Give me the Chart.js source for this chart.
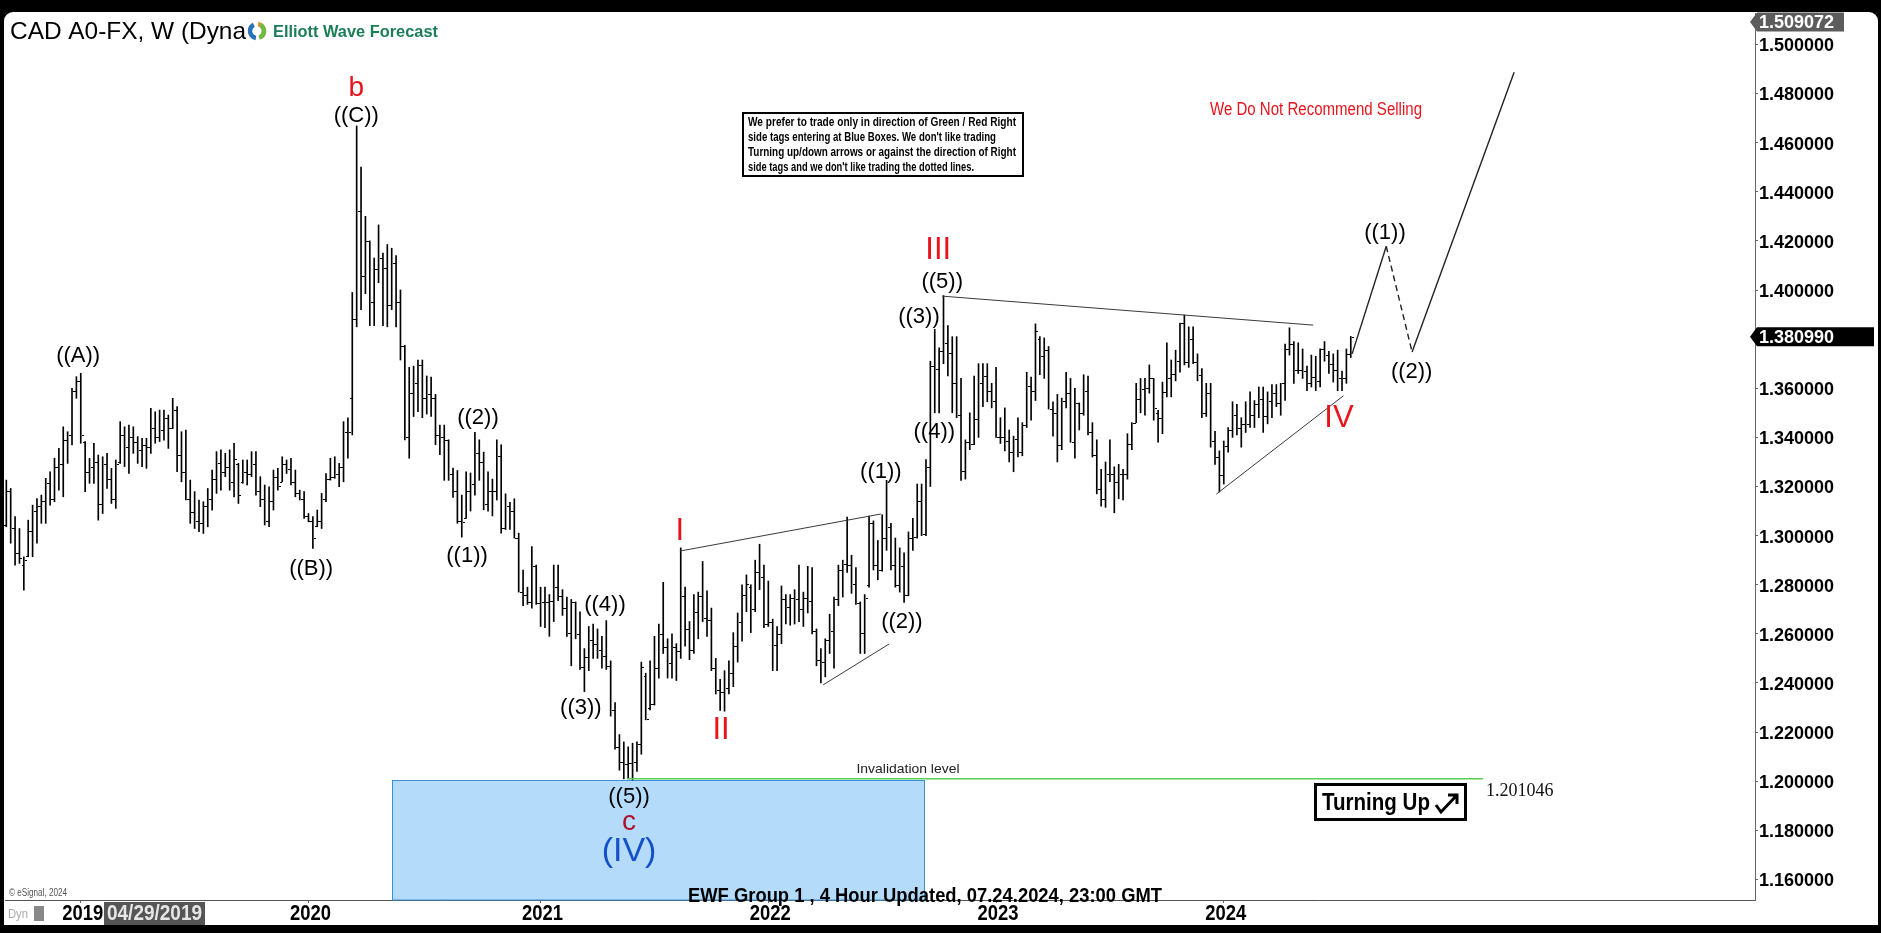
<!DOCTYPE html>
<html>
<head>
<meta charset="utf-8">
<script src="https://cdn.jsdelivr.net/npm/chart.js@4.4.1/dist/chart.umd.min.js"></script>
<style>
    html, body { margin: 0; padding: 0; background: #000; }
    #wrap { position: absolute; left: 0; top: 0; width: 1881px; height: 933px; }
</style>
</head>
<body>
<div id="wrap"><canvas id="chart" width="1881" height="933"></canvas></div>
<script>
// weekly bars, first bar = week of 2018-09-03
const yearLabels = ['2019', '2020', '2021', '2022', '2023', '2024'];
const yearTickIndex = [17, 69, 122, 174, 226, 278];
const priceTicks = [1.16, 1.18, 1.20, 1.22, 1.24, 1.26, 1.28, 1.30, 1.32, 1.34, 1.36, 1.38, 1.40, 1.42, 1.44, 1.46, 1.48, 1.50];

const weekOpen = [
    1.3045,1.3180,1.3030,1.2930,1.2880,1.2915,1.3020,1.3100,1.3120,1.3140,
    1.3215,1.3150,1.3280,1.3290,1.3390,1.3410,1.3590,1.3630,1.3380,1.3260,
    1.3280,1.3300,1.3130,1.3290,1.3230,1.3150,1.3300,1.3410,1.3360,1.3400,
    1.3380,1.3350,1.3370,1.3360,1.3440,1.3400,1.3430,1.3480,1.3440,1.3510,
    1.3330,1.3260,1.3150,1.3095,1.3060,1.3050,1.3120,1.3150,1.3230,1.3295,
    1.3260,1.3280,1.3220,1.3290,1.3220,1.3260,1.3250,1.3290,1.3180,1.3150,
    1.3060,1.3140,1.3240,1.3220,1.3290,1.3270,1.3220,1.3175,1.3150,1.3080,
    1.3060,1.3040,1.3060,1.3150,1.3230,1.3240,1.3250,1.3280,1.3420,1.3560,
    1.3880,1.4320,1.4055,1.4200,1.3950,1.4085,1.4130,1.4090,1.3940,1.4110,
    1.3950,1.3770,1.3400,1.3580,1.3620,1.3695,1.3560,1.3575,1.3560,1.3410,
    1.3400,1.3390,1.3250,1.3180,1.3060,1.3070,1.3180,1.3210,1.3335,1.3300,
    1.3130,1.3180,1.3180,1.3325,1.3030,1.3120,1.3100,1.2990,1.2770,1.2760,
    1.2730,1.2875,1.2725,1.2730,1.2730,1.2735,1.2790,1.2755,1.2705,1.2605,
    1.2730,1.2600,1.2465,1.2505,1.2575,1.2560,1.2535,1.2510,1.2470,1.2290,
    1.2140,1.2080,1.2070,1.2075,1.2080,1.2150,1.2430,1.2300,1.2315,1.2460,
    1.2600,1.2545,1.2480,1.2545,1.2530,1.2755,1.2620,1.2535,1.2690,1.2755,
    1.2665,1.2655,1.2460,1.2370,1.2365,1.2380,1.2440,1.2550,1.2650,1.2760,
    1.2790,1.2700,1.2850,1.2830,1.2640,1.2650,1.2555,1.2600,1.2740,1.2710,
    1.2745,1.2740,1.2700,1.2745,1.2735,1.2610,1.2495,1.2485,1.2575,1.2610,
    1.2740,1.2860,1.2885,1.2880,1.2805,1.2725,1.2605,1.2800,1.3050,1.2880,
    1.2860,1.2990,1.3035,1.2880,1.2800,1.2875,1.2760,1.2990,1.2995,1.3140,
    1.3005,1.3280,1.3690,1.3680,1.3750,1.3785,1.3745,1.3620,1.3490,1.3265,
    1.3380,1.3375,1.3475,1.3620,1.3650,1.3590,1.3550,1.3400,1.3400,1.3385,
    1.3340,1.3395,1.3340,1.3450,1.3610,1.3590,1.3800,1.3730,1.3755,1.3515,
    1.3500,1.3370,1.3550,1.3580,1.3380,1.3540,1.3500,1.3590,1.3420,1.3330,
    1.3190,1.3150,1.3250,1.3250,1.3220,1.3250,1.3250,1.3375,1.3460,1.3555,
    1.3595,1.3600,1.3640,1.3500,1.3480,1.3585,1.3640,1.3660,1.3710,1.3865,
    1.3705,1.3800,1.3705,1.3655,1.3500,1.3580,1.3385,1.3320,1.3245,1.3365,
    1.3430,1.3490,1.3440,1.3455,1.3455,1.3490,1.3535,1.3555,1.3485,1.3550,
    1.3580,1.3540,1.3620,1.3760,1.3780,1.3675,1.3675,1.3670,1.3620,1.3645,
    1.3630,1.3760,1.3735,1.3700,1.3675,1.3640,1.3640,1.3740
];

const weekHigh = [
    1.3226,1.3192,1.3077,1.3029,1.2914,1.3063,1.3124,1.3151,1.3165,1.3233,
    1.3260,1.3315,1.3355,1.3443,1.3423,1.3600,1.3647,1.3661,1.3383,1.3315,
    1.3376,1.3328,1.3321,1.3335,1.3274,1.3308,1.3464,1.3443,1.3450,1.3443,
    1.3403,1.3396,1.3396,1.3518,1.3504,1.3511,1.3511,1.3491,1.3559,1.3525,
    1.3423,1.3430,1.3226,1.3179,1.3145,1.3138,1.3192,1.3267,1.3342,1.3349,
    1.3335,1.3349,1.3376,1.3294,1.3308,1.3308,1.3342,1.3342,1.3240,1.3206,
    1.3199,1.3267,1.3274,1.3321,1.3308,1.3315,1.3267,1.3185,1.3179,1.3090,
    1.3077,1.3104,1.3172,1.3253,1.3315,1.3321,1.3294,1.3464,1.3480,1.3990,
    1.4668,1.4500,1.4300,1.4200,1.4130,1.4265,1.4150,1.4185,1.4170,1.4140,
    1.4000,1.3775,1.3685,1.3690,1.3715,1.3715,1.3650,1.3645,1.3575,1.3450,
    1.3450,1.3390,1.3275,1.3265,1.3165,1.3260,1.3255,1.3420,1.3390,1.3340,
    1.3260,1.3230,1.3390,1.3370,1.3170,1.3135,1.3150,1.3010,1.2860,1.2790,
    1.2955,1.2880,1.2790,1.2790,1.2760,1.2880,1.2880,1.2780,1.2750,1.2740,
    1.2730,1.2690,1.2540,1.2630,1.2640,1.2620,1.2590,1.2654,1.2490,1.2320,
    1.2190,1.2160,1.2140,1.2155,1.2160,1.2485,1.2440,1.2490,1.2590,1.2640,
    1.2810,1.2580,1.2600,1.2560,1.2950,1.2790,1.2650,1.2760,1.2770,1.2895,
    1.2775,1.2705,1.2500,1.2415,1.2450,1.2490,1.2605,1.2685,1.2800,1.2840,
    1.2800,1.2900,1.2965,1.2880,1.2815,1.2660,1.2630,1.2795,1.2760,1.2760,
    1.2780,1.2880,1.2770,1.2875,1.2870,1.2620,1.2540,1.2580,1.2680,1.2750,
    1.2880,1.2900,1.3075,1.2920,1.2870,1.2730,1.2760,1.3080,1.3060,1.2980,
    1.3085,1.3225,1.3050,1.2990,1.2950,1.2930,1.3015,1.3070,1.3210,1.3210,
    1.3310,1.3710,1.3840,1.3765,1.3977,1.3855,1.3810,1.3810,1.3640,1.3390,
    1.3500,1.3650,1.3700,1.3700,1.3700,1.3620,1.3685,1.3480,1.3520,1.3430,
    1.3405,1.3480,1.3460,1.3665,1.3645,1.3862,1.3810,1.3805,1.3770,1.3545,
    1.3575,1.3560,1.3665,1.3640,1.3600,1.3540,1.3655,1.3650,1.3460,1.3390,
    1.3270,1.3300,1.3390,1.3280,1.3290,1.3270,1.3415,1.3460,1.3620,1.3640,
    1.3640,1.3695,1.3640,1.3510,1.3625,1.3785,1.3715,1.3755,1.3865,1.3898,
    1.3850,1.3850,1.3740,1.3680,1.3620,1.3620,1.3425,1.3345,1.3385,1.3440,
    1.3545,1.3535,1.3480,1.3545,1.3585,1.3550,1.3605,1.3605,1.3585,1.3615,
    1.3615,1.3620,1.3780,1.3846,1.3790,1.3785,1.3760,1.3690,1.3735,1.3730,
    1.3760,1.3790,1.3750,1.3740,1.3755,1.3670,1.3760,1.3811
];

const weekLow = [
    1.3036,1.2969,1.2880,1.2887,1.2778,1.2914,1.2914,1.2969,1.3050,1.3050,
    1.3124,1.3138,1.3185,1.3158,1.3294,1.3369,1.3559,1.3376,1.3179,1.3213,
    1.3213,1.3063,1.3090,1.3192,1.3131,1.3111,1.3294,1.3281,1.3253,1.3335,
    1.3294,1.3281,1.3274,1.3335,1.3376,1.3383,1.3389,1.3355,1.3436,1.3260,
    1.3219,1.3145,1.3050,1.3029,1.3016,1.3009,1.3036,1.3104,1.3172,1.3185,
    1.3240,1.3185,1.3158,1.3131,1.3213,1.3206,1.3240,1.3165,1.3118,1.3043,
    1.3036,1.3104,1.3185,1.3219,1.3253,1.3206,1.3158,1.3145,1.3070,1.3056,
    1.2948,1.3036,1.3029,1.3138,1.3226,1.3233,1.3199,1.3219,1.3315,1.3410,
    1.3850,1.3920,1.3985,1.3855,1.3855,1.4030,1.3855,1.3850,1.3920,1.3850,
    1.3715,1.3390,1.3315,1.3485,1.3505,1.3480,1.3495,1.3485,1.3370,1.3330,
    1.3225,1.3225,1.3155,1.3050,1.2994,1.3070,1.3100,1.3165,1.3225,1.3105,
    1.3100,1.3080,1.3145,1.3010,1.3025,1.3025,1.2990,1.2770,1.2715,1.2720,
    1.2705,1.2720,1.2630,1.2625,1.2590,1.2650,1.2735,1.2675,1.2590,1.2470,
    1.2580,1.2455,1.2365,1.2450,1.2500,1.2500,1.2460,1.2455,1.2265,1.2130,
    1.2045,1.2010,1.2010,1.2005,1.2040,1.2110,1.2250,1.2290,1.2310,1.2420,
    1.2520,1.2420,1.2420,1.2410,1.2500,1.2550,1.2495,1.2520,1.2580,1.2650,
    1.2590,1.2450,1.2355,1.2288,1.2285,1.2355,1.2385,1.2485,1.2570,1.2690,
    1.2605,1.2690,1.2780,1.2625,1.2630,1.2450,1.2450,1.2560,1.2640,1.2635,
    1.2640,1.2650,1.2630,1.2685,1.2600,1.2470,1.2400,1.2425,1.2520,1.2460,
    1.2715,1.2750,1.2850,1.2765,1.2720,1.2520,1.2520,1.2790,1.2860,1.2820,
    1.2855,1.2940,1.2860,1.2790,1.2770,1.2728,1.2755,1.2940,1.2990,1.3000,
    1.3000,1.3200,1.3500,1.3500,1.3700,1.3650,1.3500,1.3480,1.3225,1.3230,
    1.3350,1.3370,1.3400,1.3525,1.3545,1.3520,1.3400,1.3375,1.3345,1.3300,
    1.3260,1.3320,1.3325,1.3440,1.3470,1.3550,1.3655,1.3640,1.3515,1.3405,
    1.3300,1.3350,1.3520,1.3380,1.3315,1.3430,1.3490,1.3410,1.3320,1.3170,
    1.3120,1.3115,1.3220,1.3093,1.3150,1.3145,1.3230,1.3350,1.3460,1.3500,
    1.3490,1.3580,1.3470,1.3380,1.3415,1.3565,1.3565,1.3630,1.3665,1.3695,
    1.3685,1.3700,1.3630,1.3480,1.3485,1.3360,1.3290,1.3178,1.3210,1.3340,
    1.3400,1.3410,1.3360,1.3420,1.3440,1.3440,1.3480,1.3420,1.3455,1.3480,
    1.3525,1.3490,1.3550,1.3735,1.3620,1.3660,1.3640,1.3590,1.3605,1.3590,
    1.3605,1.3710,1.3660,1.3625,1.3590,1.3590,1.3620,1.3725
];

const weekClose = [
    1.3180,1.3030,1.2930,1.2910,1.2900,1.3020,1.3100,1.3120,1.3140,1.3215,
    1.3150,1.3280,1.3290,1.3390,1.3410,1.3590,1.3630,1.3410,1.3260,1.3280,
    1.3300,1.3130,1.3290,1.3230,1.3150,1.3290,1.3410,1.3360,1.3400,1.3380,
    1.3350,1.3370,1.3360,1.3440,1.3400,1.3430,1.3480,1.3440,1.3510,1.3330,
    1.3260,1.3150,1.3095,1.3060,1.3050,1.3120,1.3150,1.3230,1.3295,1.3260,
    1.3280,1.3220,1.3310,1.3165,1.3260,1.3250,1.3290,1.3180,1.3150,1.3060,
    1.3140,1.3240,1.3200,1.3290,1.3270,1.3220,1.3175,1.3150,1.3080,1.3060,
    1.2990,1.3060,1.3150,1.3230,1.3240,1.3250,1.3280,1.3420,1.3420,1.3880,
    1.4320,1.4055,1.4200,1.3950,1.4085,1.4130,1.4090,1.3940,1.4110,1.3950,
    1.3770,1.3400,1.3580,1.3620,1.3695,1.3560,1.3575,1.3560,1.3410,1.3400,
    1.3390,1.3250,1.3180,1.3060,1.3055,1.3180,1.3210,1.3335,1.3300,1.3130,
    1.3180,1.3180,1.3325,1.3030,1.3120,1.3100,1.2990,1.2770,1.2760,1.2730,
    1.2875,1.2725,1.2730,1.2730,1.2735,1.2790,1.2755,1.2705,1.2605,1.2730,
    1.2600,1.2465,1.2505,1.2575,1.2560,1.2535,1.2510,1.2470,1.2290,1.2140,
    1.2080,1.2070,1.2075,1.2080,1.2150,1.2465,1.2255,1.2315,1.2460,1.2600,
    1.2545,1.2480,1.2545,1.2530,1.2755,1.2620,1.2535,1.2690,1.2755,1.2665,
    1.2655,1.2460,1.2370,1.2365,1.2380,1.2440,1.2550,1.2650,1.2760,1.2805,
    1.2700,1.2850,1.2830,1.2640,1.2650,1.2555,1.2600,1.2740,1.2710,1.2745,
    1.2740,1.2700,1.2745,1.2735,1.2610,1.2495,1.2485,1.2575,1.2610,1.2740,
    1.2860,1.2885,1.2880,1.2805,1.2725,1.2605,1.2745,1.3050,1.2880,1.2860,
    1.2990,1.3035,1.2880,1.2800,1.2875,1.2760,1.2990,1.2995,1.3140,1.3005,
    1.3280,1.3690,1.3680,1.3750,1.3785,1.3745,1.3620,1.3490,1.3265,1.3380,
    1.3375,1.3475,1.3620,1.3650,1.3590,1.3550,1.3400,1.3400,1.3385,1.3340,
    1.3395,1.3340,1.3450,1.3610,1.3590,1.3835,1.3730,1.3755,1.3515,1.3500,
    1.3370,1.3550,1.3580,1.3380,1.3540,1.3500,1.3590,1.3420,1.3330,1.3190,
    1.3150,1.3250,1.3250,1.3220,1.3250,1.3250,1.3375,1.3460,1.3555,1.3595,
    1.3600,1.3640,1.3520,1.3480,1.3585,1.3640,1.3660,1.3710,1.3865,1.3705,
    1.3800,1.3705,1.3655,1.3500,1.3580,1.3385,1.3320,1.3245,1.3365,1.3430,
    1.3490,1.3440,1.3455,1.3455,1.3490,1.3535,1.3555,1.3485,1.3550,1.3580,
    1.3540,1.3620,1.3760,1.3780,1.3675,1.3675,1.3670,1.3620,1.3645,1.3630,
    1.3760,1.3735,1.3700,1.3675,1.3640,1.3640,1.3740,1.38099
];

const lastPrice = 1.380990;
const topTag = 1.509072;
const invalidation = 1.201046;

// wave counts: text, bar position, price, colour
const waveLabels = [
    ['((A))', 16.4, 1.3731, 'k'],
    ['((B))', 69.6, 1.2865, 'k'],
    ['b', 79.9, 1.4822, 'r'],
    ['((C))', 79.9, 1.4708, 'k'],
    ['((1))', 105.2, 1.2917, 'k'],
    ['((2))', 107.7, 1.3479, 'k'],
    ['((3))', 131.2, 1.2298, 'k'],
    ['((4))', 136.7, 1.2717, 'k'],
    ['((5))', 142.2, 1.1935, 'k'],
    ['c', 142.2, 1.1833, 'm'],
    ['(IV)', 142.2, 1.1715, 'b'],
    ['I', 153.8, 1.3015, 'R'],
    ['II', 163.2, 1.2205, 'R'],
    ['((1))', 199.7, 1.3259, 'k'],
    ['((2))', 204.5, 1.2648, 'k'],
    ['((3))', 208.4, 1.3891, 'k'],
    ['((4))', 211.9, 1.3422, 'k'],
    ['((5))', 213.7, 1.4032, 'k'],
    ['III', 212.8, 1.4159, 'R'],
    ['IV', 304.3, 1.3479, 'R'],
    ['((1))', 314.8, 1.4232, 'k'],
    ['((2))', 320.9, 1.3666, 'k']
];

const wedgeI = [[153.8, 1.2937], [199.7, 1.3088]];
const wedgeI2 = [[186.5, 1.2392], [201.6, 1.2559]];
const wedgeIII = [[213.7, 1.3975], [298.4, 1.3857]];
const wedgeIV = [[276.3, 1.3169], [305.3, 1.3569]];
const projection = [[307.3, 1.3740], [315.1, 1.4178], [321.0, 1.3748], [344.3, 1.4887]];
const invalidRange = [141.8, 337.2];
const blueBox = [88.1, 209.6, 1.2005];

const STYLE = {
    k: ['22px "Liberation Sans", Arial', '#000'],
    r: ['28px "Liberation Sans", Arial', '#e8141c'],
    m: ['28px "Liberation Sans", Arial', '#b0102c'],
    b: ['34px "Liberation Sans", Arial', '#1450c8'],
    R: ['31px "Liberation Sans", Arial', '#e8141c']
};
const NARROW = '"Liberation Sans Narrow", "Arial Narrow", "Liberation Sans", Arial, sans-serif';

function pts(list) {
    return list.map(p => ({ x: p[0], y: p[1] }));
}

function fitText(c, text, x, y, w, font, color, align) {
    c.save();
    c.font = font;
    const m = c.measureText(text).width;
    c.translate(x, y);
    c.scale(w / m, 1);
    c.fillStyle = color;
    c.textAlign = align || 'left';
    c.textBaseline = 'middle';
    c.fillText(text, 0, 0);
    c.restore();
}

function priceTag(c, y, text, bg, x0, x1) {
    c.save();
    c.fillStyle = bg;
    c.beginPath();
    c.moveTo(x0 - 5, y);
    c.lineTo(x0 + 2, y - 9.5);
    c.lineTo(x1, y - 9.5);
    c.lineTo(x1, y + 9.5);
    c.lineTo(x0 + 2, y + 9.5);
    c.closePath();
    c.fill();
    c.fillStyle = '#fff';
    c.font = 'bold 18px "Liberation Sans", Arial';
    c.textBaseline = 'middle';
    c.fillText(text, x0 + 4, y + 1);
    c.restore();
}

const decor = {
    id: 'decor',
    beforeDraw(chart) {
        const c = chart.ctx;
        c.save();
        c.fillStyle = '#000';
        c.fillRect(0, 0, chart.width, chart.height);
        c.fillStyle = '#fff';
        c.beginPath();
        c.roundRect(4, 12, 1874, 913, [9, 9, 0, 0]);
        c.fill();
        c.restore();
    },
    beforeDatasetsDraw(chart) {
        const c = chart.ctx;
        const { x, y } = chart.scales;
        const a = chart.chartArea;
        const x0 = Math.round(x.getPixelForValue(blueBox[0])) + 0.5;
        const x1 = Math.round(x.getPixelForValue(blueBox[1])) + 0.5;
        const y0 = Math.round(y.getPixelForValue(blueBox[2])) + 0.5;
        c.save();
        c.fillStyle = '#b4dcfa';
        c.fillRect(x0, y0, x1 - x0, a.bottom - y0);
        c.strokeStyle = '#3a90d4';
        c.lineWidth = 1;
        c.strokeRect(x0, y0, x1 - x0, a.bottom - y0);
        c.restore();
    },
    afterDatasetsDraw(chart) {
        const c = chart.ctx;
        const { x, y } = chart.scales;
        const bars = chart.getDatasetMeta(0).data;
        c.save();
        c.fillStyle = '#000';
        bars.forEach((bar, i) => {
            const cx = Math.round(bar.x);
            c.fillRect(cx - 2, Math.round(y.getPixelForValue(weekOpen[i])), 2, 1);
            c.fillRect(cx + 1, Math.round(y.getPixelForValue(weekClose[i])), 2, 1);
        });

        c.textAlign = 'center';
        c.textBaseline = 'middle';
        waveLabels.forEach(l => {
            const st = STYLE[l[3]];
            c.font = st[0];
            c.fillStyle = st[1];
            c.fillText(l[0], x.getPixelForValue(l[1]), y.getPixelForValue(l[2]));
        });

        fitText(c, 'Invalidation level', 908, 769, 103, '13px "Liberation Sans", Arial', '#222', 'center');
        c.font = '18px "Liberation Serif", "Times New Roman", serif';
        c.fillStyle = '#111';
        c.textAlign = 'left';
        c.fillText(invalidation.toFixed(6), 1486, 791);

        // turning up box
        c.lineWidth = 3;
        c.strokeStyle = '#000';
        c.fillStyle = '#fff';
        c.fillRect(1315, 784, 151, 36);
        c.strokeRect(1315.5, 784.5, 150, 35);
        fitText(c, 'Turning Up', 1322, 803, 108, 'bold 24px ' + NARROW, '#000', 'left');
        c.beginPath();
        c.moveTo(1436, 805);
        c.lineTo(1441, 812);
        c.lineTo(1457, 795);
        c.moveTo(1448, 795);
        c.lineTo(1457, 795);
        c.lineTo(1457, 804);
        c.stroke();

        // note box
        c.lineWidth = 2;
        c.strokeRect(743, 113, 280, 63);
        const note = [
            ['We prefer to trade only in direction of Green / Red Right', 268],
            ['side tags entering at Blue Boxes. We don\'t like trading', 248],
            ['Turning up/down arrows or against the direction of Right', 268],
            ['side tags and we don\'t like trading the dotted lines.', 226]
        ];
        note.forEach((n, k) => {
            fitText(c, n[0], 748, 122 + k * 15.2, n[1], 'bold 13px ' + NARROW, '#000', 'left');
        });

        fitText(c, 'We Do Not Recommend Selling', 1210, 110, 212, '18px ' + NARROW, '#e8141c', 'left');
        c.restore();
    },
    afterDraw(chart) {
        const c = chart.ctx;
        const { x, y } = chart.scales;
        c.save();
        fitText(c, 'CAD A0-FX, W (Dyna', 10, 32, 236, '24px "Liberation Sans", Arial', '#000', 'left');

        // logo
        const lx = 257, ly = 31;
        c.lineWidth = 4.5;
        [['#2b73b9', 0.55, 1.35], ['#f28c28', 1.55, 2.35], ['#6dbb45', -0.35, 0.4]].forEach(s => {
            c.strokeStyle = s[0];
            c.beginPath();
            c.arc(lx, ly, 7, s[1] * Math.PI, s[2] * Math.PI);
            c.stroke();
        });
        fitText(c, 'Elliott Wave Forecast', 273, 32, 165, 'bold 17px "Liberation Sans", Arial', '#1b7e56', 'left');

        priceTag(c, y.getPixelForValue(topTag), topTag.toFixed(6), '#5c5c5c', 1755, 1844);
        priceTag(c, y.getPixelForValue(lastPrice), lastPrice.toFixed(6), '#000', 1755, 1874);

        // year labels, condensed bold
        yearTickIndex.forEach((v, k) => {
            fitText(c, yearLabels[k], x.getPixelForValue(v) + 2, 914, 41, 'bold 22px "Liberation Sans", Arial', '#000', 'center');
        });

        fitText(c, 'EWF Group 1 , 4 Hour Updated, 07.24.2024, 23:00 GMT', 688, 896, 474, 'bold 20px ' + NARROW, '#000', 'left');
        fitText(c, '\u00a9 eSignal, 2024', 9, 893, 58, '10px "Liberation Sans", Arial', '#555', 'left');

        fitText(c, 'Dyn', 8, 914, 20, '13px "Liberation Sans", Arial', '#aaa', 'left');
        c.fillStyle = '#888';
        c.fillRect(34, 906, 10, 15);
        c.fillStyle = '#555';
        c.fillRect(104, 902, 101, 23);
        fitText(c, '04/29/2019', 107, 914, 95, 'bold 22px ' + NARROW, '#e6e6e6', 'left');
        c.restore();
    }
};

const ctx = document.getElementById('chart');

ctx.chart = new Chart(ctx, {
    type: 'bar',
    data: {
        datasets: [
            {
                type: 'bar',
                data: weekHigh.map((h, i) => ({ x: i, y: [weekLow[i], h] })),
                backgroundColor: '#000',
                borderWidth: 0,
                barThickness: 1,
                grouped: false,
                order: 2
            },
            { type: 'line', data: pts(wedgeI), borderColor: '#3a3a3a', borderWidth: 1, pointRadius: 0, order: 1 },
            { type: 'line', data: pts(wedgeI2), borderColor: '#3a3a3a', borderWidth: 1, pointRadius: 0, order: 1 },
            { type: 'line', data: pts(wedgeIII), borderColor: '#3a3a3a', borderWidth: 1, pointRadius: 0, order: 1 },
            { type: 'line', data: pts(wedgeIV), borderColor: '#3a3a3a', borderWidth: 1, pointRadius: 0, order: 1 },
            {
                type: 'line',
                data: pts(projection),
                borderColor: '#222',
                borderWidth: 1.4,
                pointRadius: 0,
                order: 1,
                segment: { borderDash: s => (s.p0DataIndex === 1 ? [6, 4] : undefined) }
            },
            {
                type: 'line',
                data: invalidRange.map(v => ({ x: v, y: invalidation })),
                borderColor: '#55d055',
                borderWidth: 1.5,
                pointRadius: 0,
                order: 1
            }
        ]
    },
    options: {
        responsive: false,
        animation: false,
        layout: { padding: { left: 5, top: 13, right: 0, bottom: 0 } },
        plugins: {
            legend: { display: false },
            tooltip: { enabled: false }
        },
        scales: {
            x: {
                type: 'linear',
                position: 'bottom',
                min: -0.3,
                max: 399.3,
                offset: false,
                afterFit(s) { s.height = 33; },
                afterBuildTicks(s) { s.ticks = yearTickIndex.map(v => ({ value: v })); },
                ticks: { display: false },
                grid: { drawOnChartArea: false, offset: false, tickLength: 3, color: '#666' },
                border: { color: '#555' }
            },
            y: {
                type: 'linear',
                position: 'right',
                min: 1.15164,
                max: 1.51278,
                afterFit(s) { s.width = 126; },
                afterBuildTicks(s) { s.ticks = priceTicks.map(v => ({ value: v })); },
                ticks: {
                    padding: 1,
                    labelOffset: 2,
                    color: '#000',
                    font: { family: '"Liberation Sans", Arial', size: 18, weight: 'bold' },
                    callback: v => v.toFixed(6)
                },
                grid: { drawOnChartArea: false, tickLength: 3, color: '#666' },
                border: { color: '#666' }
            }
        }
    },
    plugins: [decor]
});
</script>
</body>
</html>
